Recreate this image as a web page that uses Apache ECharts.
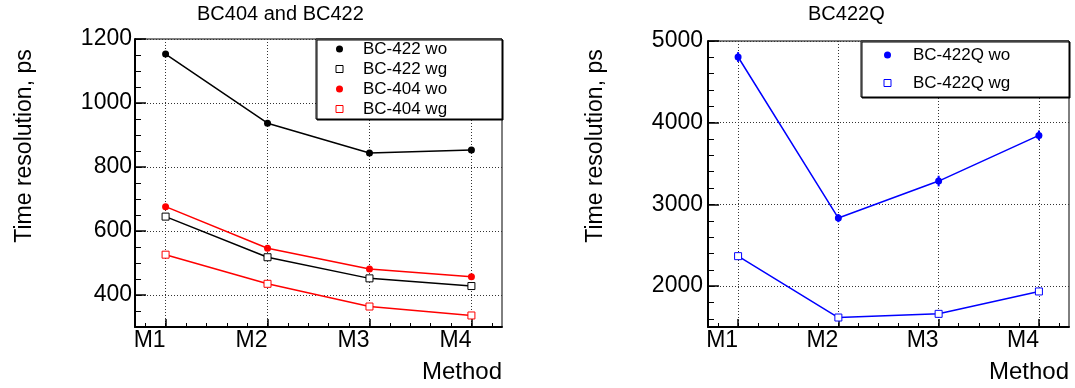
<!DOCTYPE html>
<html><head><meta charset="utf-8">
<script src="https://cdn.jsdelivr.net/npm/echarts@6/dist/echarts.min.js"></script>
<style>html,body{margin:0;padding:0;background:#fff}#c{width:1075px;height:388px}</style>
</head><body><div id="c"></div>
<script>
// ---- data ----
const categories = ['M1', 'M2', 'M3', 'M4'];
const methodPositions = [1, 2, 3, 4];
const bc422wo = [1153, 937, 844, 853];
const bc422wg = [645, 518, 452, 428];
const bc404wo = [676, 546, 481, 457];
const bc404wg = [526, 435, 364, 336];
const bc422qwo = [4804, 2833, 3286, 3845];
const bc422qwoErr = [60, 50, 65, 60];
const bc422qwg = [2367, 1616, 1661, 1935];
const leftYTicks = [400, 600, 800, 1000, 1200];
const leftYMinor = [350, 400, 450, 500, 550, 600, 650, 700, 750, 800, 850, 900, 950, 1000, 1050, 1100, 1150, 1200];
const rightYTicks = [2000, 3000, 4000, 5000];
const rightYMinor = [1600, 1800, 2000, 2200, 2400, 2600, 2800, 3000, 3200, 3400, 3600, 3800, 4000, 4200, 4400, 4600, 4800, 5000];
const xMinor = [0.8, 1.0, 1.2, 1.4, 1.6, 1.8, 2.0, 2.2, 2.4, 2.6, 2.8, 3.0, 3.2, 3.4, 3.6, 3.8, 4.0, 4.2];
const titles = ['BC404 and BC422', 'BC422Q'];
const yTitle = 'Time resolution, ps';
const xTitle = 'Method';

const FONT = "'Liberation Sans', Arial, Helvetica, sans-serif";
const pts = arr => methodPositions.map((x, i) => [x, arr[i]]);

function mainX(gi) {
  return {
    type: 'value', gridIndex: gi, min: 0.7, max: 4.3, position: 'bottom',
    axisLine: { show: true, onZero: false, lineStyle: { color: '#000', width: 2 } },
    axisTick: { show: true, inside: true, length: 8, customValues: methodPositions, lineStyle: { color: '#000', width: 1.5 } },
    axisLabel: { customValues: methodPositions, formatter: v => categories[Math.round(v) - 1], align: 'right', margin: 2, fontSize: 23, color: '#000', fontFamily: FONT },
    splitLine: { show: true, lineStyle: { color: '#333', type: [1, 2], width: 1 } }
  };
}
function minorX(gi) {
  return {
    type: 'value', gridIndex: gi, min: 0.7, max: 4.3, position: 'bottom',
    axisLine: { show: false, onZero: false },
    axisTick: { show: true, inside: true, length: 4, customValues: xMinor, lineStyle: { color: '#000', width: 1 } },
    axisLabel: { show: false }, splitLine: { show: false }
  };
}
function mainY(gi, min, max, ticks, margin) {
  return {
    type: 'value', gridIndex: gi, min: min, max: max, position: 'left',
    axisLine: { show: true, onZero: false, lineStyle: { color: '#000', width: 2 } },
    axisTick: { show: true, inside: true, length: 11, customValues: ticks, lineStyle: { color: '#000', width: 1.5 } },
    axisLabel: { customValues: ticks, formatter: v => String(v), margin: margin, fontSize: 23, color: '#000', fontFamily: FONT },
    splitLine: { show: true, lineStyle: { color: '#333', type: [1, 2], width: 1 } }
  };
}
function minorY(gi, min, max, ticks) {
  return {
    type: 'value', gridIndex: gi, min: min, max: max, position: 'left',
    axisLine: { show: false, onZero: false },
    axisTick: { show: true, inside: true, length: 6, customValues: ticks, lineStyle: { color: '#000', width: 1 } },
    axisLabel: { show: false }, splitLine: { show: false }
  };
}
function filled(name, data, color, xi, yi) {
  return { name, type: 'line', xAxisIndex: xi, yAxisIndex: yi, data: pts(data), symbol: 'circle', symbolSize: 7,
    itemStyle: { color: color }, lineStyle: { color: color, width: 1.5 }, z: 3 };
}
function open(name, data, color, xi, yi) {
  return { name, type: 'line', xAxisIndex: xi, yAxisIndex: yi, data: pts(data), symbol: 'rect', symbolSize: 7,
    itemStyle: { color: '#fff', borderColor: color, borderWidth: 1 }, lineStyle: { color: color, width: 1.5 }, z: 3 };
}

const chart = echarts.init(document.getElementById('c'), null, { renderer: 'canvas' });
chart.setOption({
  animation: false,
  backgroundColor: '#fff',
  textStyle: { fontFamily: FONT },
  title: [
    { text: titles[0], left: 197, top: 4, padding: 0, textStyle: { fontSize: 20, fontWeight: 'normal', color: '#000', fontFamily: FONT } },
    { text: titles[1], left: 808, top: 4, padding: 0, textStyle: { fontSize: 20, fontWeight: 'normal', color: '#000', fontFamily: FONT } }
  ],
  grid: [
    { left: 135, right: 573, top: 39, bottom: 61, show: true, borderColor: '#000', borderWidth: 1, backgroundColor: 'transparent' },
    { left: 708, right: 6, top: 41, bottom: 61, show: true, borderColor: '#000', borderWidth: 1, backgroundColor: 'transparent' }
  ],
  xAxis: [mainX(0), minorX(0), mainX(1), minorX(1)],
  yAxis: [mainY(0, 300, 1200, leftYTicks, 3), minorY(0, 300, 1200, leftYMinor),
          mainY(1, 1500, 5000, rightYTicks, 5), minorY(1, 1500, 5000, rightYMinor)],
  legend: [
    { orient: 'vertical', left: 335.5, top: 39, padding: 0, itemGap: 0, itemWidth: 7, itemHeight: 7, selectedMode: false, z: 5,
      textStyle: { fontSize: 17, lineHeight: 20, color: '#000', fontFamily: FONT, padding: [0, 0, 0, 15] },
      data: [
        { name: 'BC-422 wo', icon: 'circle', itemStyle: { color: '#000' } },
        { name: 'BC-422 wg', icon: 'rect', itemStyle: { color: '#fff', borderColor: '#000', borderWidth: 1 } },
        { name: 'BC-404 wo', icon: 'circle', itemStyle: { color: '#f00' } },
        { name: 'BC-404 wg', icon: 'rect', itemStyle: { color: '#fff', borderColor: '#f00', borderWidth: 1 } }
      ] },
    { orient: 'vertical', left: 883.5, top: 45, padding: 0, itemGap: 8, itemWidth: 7, itemHeight: 7, selectedMode: false, z: 5,
      textStyle: { fontSize: 17, lineHeight: 20, color: '#000', fontFamily: FONT, padding: [0, 0, 0, 17] },
      data: [
        { name: 'BC-422Q wo', icon: 'circle', itemStyle: { color: '#00f' } },
        { name: 'BC-422Q wg', icon: 'rect', itemStyle: { color: '#fff', borderColor: '#00f', borderWidth: 1 } }
      ] }
  ],
  graphic: [
    { type: 'rect', z: 4, shape: { x: 316, y: 39, width: 186, height: 80 }, style: { fill: '#fff', stroke: '#000', lineWidth: 1, shadowColor: '#000', shadowOffsetX: 1, shadowOffsetY: 1 } },
    { type: 'rect', z: 4, shape: { x: 861, y: 41, width: 208, height: 56 }, style: { fill: '#fff', stroke: '#000', lineWidth: 1, shadowColor: '#000', shadowOffsetX: 1, shadowOffsetY: 1 } },
    { type: 'text', x: 25, y: 146, rotation: Math.PI / 2, style: { text: yTitle, fontSize: 23, fontFamily: FONT, fill: '#000', align: 'center', verticalAlign: 'middle' } },
    { type: 'text', x: 596, y: 146, rotation: Math.PI / 2, style: { text: yTitle, fontSize: 23, fontFamily: FONT, fill: '#000', align: 'center', verticalAlign: 'middle' } },
    { type: 'text', x: 502, y: 372, style: { text: xTitle, fontSize: 24, fontFamily: FONT, fill: '#000', align: 'right', verticalAlign: 'middle' } },
    { type: 'text', x: 1069, y: 372, style: { text: xTitle, fontSize: 24, fontFamily: FONT, fill: '#000', align: 'right', verticalAlign: 'middle' } }
  ],
  series: [
    filled('BC-422 wo', bc422wo, '#000', 0, 0),
    open('BC-422 wg', bc422wg, '#000', 0, 0),
    filled('BC-404 wo', bc404wo, '#f00', 0, 0),
    open('BC-404 wg', bc404wg, '#f00', 0, 0),
    filled('BC-422Q wo', bc422qwo, '#00f', 2, 2),
    open('BC-422Q wg', bc422qwg, '#00f', 2, 2),
    { type: 'custom', name: 'err', xAxisIndex: 2, yAxisIndex: 2, z: 3,
      data: methodPositions.map((x, i) => [x, bc422qwo[i], bc422qwoErr[i]]),
      encode: { x: 0, y: 1 },
      renderItem: (params, api) => {
        const x = api.value(0), y = api.value(1), e = api.value(2);
        const p1 = api.coord([x, y - e]), p2 = api.coord([x, y + e]);
        return { type: 'line', shape: { x1: p1[0], y1: p1[1], x2: p2[0], y2: p2[1] }, style: { stroke: '#00f', lineWidth: 2 } };
      } }
  ]
});
</script>
</body></html>
